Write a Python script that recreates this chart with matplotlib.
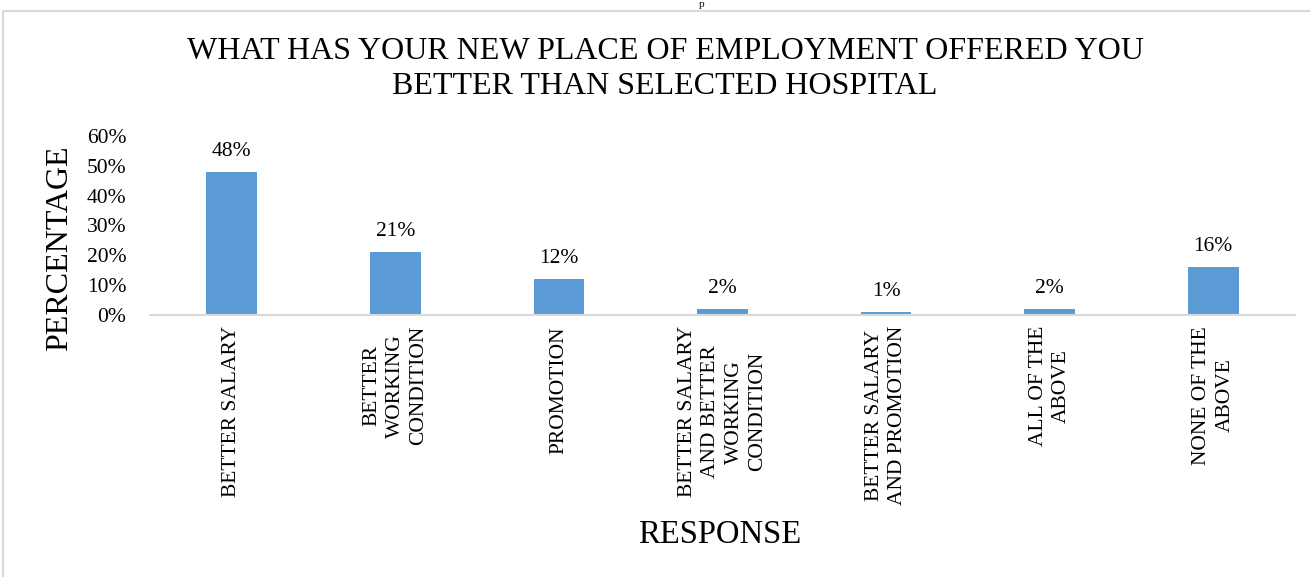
import matplotlib.pyplot as plt
import matplotlib.patches as patches
import numpy as np

# data
categories = ['BETTER SALARY',
              'BETTER\nWORKING\nCONDITION',
              'PROMOTION',
              'BETTER SALARY\nAND BETTER\nWORKING\nCONDITION',
              'BETTER SALARY\nAND PROMOTION',
              'ALL OF THE\nABOVE',
              'NONE OF THE\nABOVE']
values = [48, 21, 12, 2, 1, 2, 16]
yticks = [0, 10, 20, 30, 40, 50, 60]

plt.rcParams['font.family'] = ['Liberation Serif', 'DejaVu Serif']

W, H = 1310, 577
fig = plt.figure(figsize=(W / 100, H / 100), dpi=100)
ax = fig.add_axes([150 / W, 1 - 315 / H, 1145 / W, 179 / H])

x = np.arange(len(values))
bars = ax.bar(x, values, width=0.31, color='#5B9BD5')
ax.bar_label(bars, labels=['%d%%' % v for v in values], padding=8, fontsize=15.5)

ax.set_xlim(-0.5, len(values) - 0.5)
ax.set_ylim(0, 60)
ax.set_yticks(yticks)
ax.set_yticklabels(['%d%%' % t for t in yticks], fontsize=15.5)
ax.set_xticks(x)
ax.set_xticklabels(categories, rotation=90, fontsize=15.5, va='top', ha='center',
                   multialignment='center', linespacing=1.3)
ax.tick_params(axis='both', length=0)
ax.tick_params(axis='y', pad=17)
ax.tick_params(axis='x', pad=8)

for s in ['top', 'right', 'left']:
    ax.spines[s].set_visible(False)
ax.spines['bottom'].set_color('#D9D9D9')
ax.spines['bottom'].set_linewidth(1.5)

fig.text(665 / W, 1 - 69 / H,
         'WHAT HAS YOUR NEW PLACE OF EMPLOYMENT OFFERED YOU\nBETTER THAN SELECTED HOSPITAL',
         ha='center', va='center', fontsize=23, linespacing=1.25)
fig.text(60 / W, 1 - 248 / H, 'PERCENTAGE', rotation=90, ha='center', va='center', fontsize=23)
fig.text(720 / W, 1 - 535 / H, 'RESPONSE', ha='center', va='center', fontsize=23.5)

# partial caption text at the top edge
fig.text(702 / W, 1.0, 'p', ha='center', va='top', fontsize=8)

# outer chart frame
fig.patches.append(patches.Rectangle((3 / W, -0.1), 1.2, 1.1 - 11 / H,
                                     transform=fig.transFigure, fill=False,
                                     edgecolor='#D9D9D9', linewidth=1.5))

plt.savefig('out.png', dpi=100)
